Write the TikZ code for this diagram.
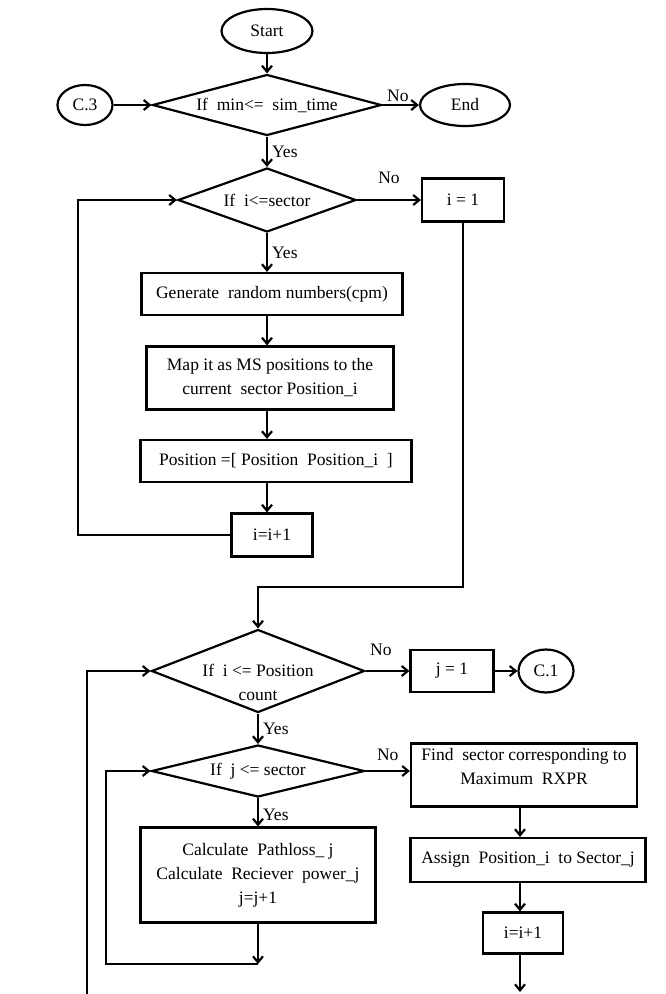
\documentclass[tikz,border=0pt]{standalone}
\usepackage{fontspec}
\setmainfont{Liberation Serif}
\usetikzlibrary{shapes.geometric,arrows.meta}

\begin{document}
\begin{tikzpicture}[x=1pt,y=-1pt,
  font=\fontsize{17.5}{24}\selectfont,
  every node/.style={inner sep=0pt},
  box/.style={draw,line width=2.2pt,align=center},
  term/.style={draw,line width=2.2pt,ellipse},
  decision/.style={draw,line width=2.2pt,diamond},
  lbl/.style={inner sep=0pt},
  arr/.style={line width=2.2pt,-{Straight Barb[length=6pt,width=10pt]}}]
  \useasboundingbox (0,0) rectangle (665,994);
  % upper loop
  \node[term, minimum width=91pt, minimum height=44pt] (start) at (267,31) {Start};
  \node[decision, aspect=3.75, minimum width=229pt, minimum height=61pt] (d1) at (267,105) {If\ \ min<=\ \ sim\_time};
  \node[term, minimum width=55pt, minimum height=40pt] (c3) at (85,105) {C.3};
  \node[term, minimum width=90pt, minimum height=42pt] (end) at (465,105) {End};
  \node[decision, aspect=2.8, minimum width=178pt, minimum height=64pt] (d2) at (267,200) {If\ \ i<=sector};
  \node[box, minimum width=82pt, minimum height=43pt] (i1) at (463,200) {i = 1};
  \node[box, minimum width=261pt, minimum height=42pt] (gen) at (272,294) {Generate\ \ random numbers(cpm)};
  \node[box, minimum width=247pt, minimum height=63pt] (map) at (270,378) {Map it as MS positions\ to the\\current\ \ sector Position\_i};
  \node[box, minimum width=271pt, minimum height=42pt] (pos) at (276,461) {Position =[\ Position\ \ Position\_i\ \ ]};
  \node[box, minimum width=81pt, minimum height=43pt] (inc1) at (272,535) {i=i+1};
  % lower loop
  \node[decision, minimum width=213pt, minimum height=83pt] (d3) at (258,671) {};
  \node[align=center] (d3txt) at ([yshift=-11pt]d3.center) {If\ \ i <= Position\\count};
  \node[box, minimum width=83pt, minimum height=42pt] (j1) at (452,671) {j = 1};
  \node[term, minimum width=55pt, minimum height=43pt] (c1) at (546,671) {C.1};
  \node[decision, aspect=4.1, minimum width=213pt, minimum height=52pt] (d4) at (258,771) {If\ \ j <= sector};
  \node[box, minimum width=226pt, minimum height=63pt] (find) at (524,775) {};
  \node[align=center] (findtxt) at ([yshift=8pt]find.center) {Find\ \ sector corresponding to\\Maximum\ \ RXPR};
  \node[box, minimum width=235pt, minimum height=95pt] (calc) at (258,875) {Calculate\ \ Pathloss\_ j\\Calculate\ \ Reciever\ \ power\_j\\j=j+1};
  \node[box, minimum width=235pt, minimum height=44pt] (assign) at (528,860) {Assign\ \ Position\_i\ \ to Sector\_j};
  \node[box, minimum width=80pt, minimum height=41pt] (inc2) at (523,933) {i=i+1};
  \coordinate (lp1) at (78,0);
  \coordinate (bend) at (258,587);
  \coordinate (lp2) at (106,0);
  \coordinate (jb) at (258,964);
  \coordinate (obot) at (87,994);
  \coordinate (rc) at (520,0);
  \coordinate (rbot) at (520,992);
  % connectors
  \draw[arr] (start) -- (d1);
  \draw[arr] (c3) -- (d1);
  \draw[arr] (d1) -- node[lbl, above=2pt, pos=0.42] (no1) {No} (end);
  \draw[arr] (d1) -- node[lbl, right=4pt] (yes1) {Yes} (d2);
  \draw[arr] (d2) -- node[lbl, above=15pt] (no2) {No} (i1);
  \draw[arr] (d2) -- node[lbl, right=4pt] (yes2) {Yes} (gen.north -| d2);
  \draw[arr] (gen.south -| d2) -- (map.north -| d2);
  \draw[arr] (map.south -| d2) -- (pos.north -| d2);
  \draw[arr] (pos.south -| d2) -- (inc1.north -| d2);
  \draw[arr] (inc1.west) -- (inc1.west -| lp1) |- (d2.west);
  \draw[arr] (i1.south) |- (bend) -- (d3.north);
  \draw[arr] (d3) -- node[lbl, above=14pt, pos=0.35] (no3) {No} (j1);
  \draw[arr] (j1) -- (c1);
  \draw[arr] (d3) -- node[lbl, right=4pt] (yes3) {Yes} (d4);
  \draw[arr] (obot) |- (d3.west);
  \draw[arr] (d4.east) -- node[lbl, above=9pt] (no4) {No} (d4.east -| find.west);
  \draw[arr] (d4) -- node[lbl, right=4pt, pos=0.6] (yes4) {Yes} (calc);
  \draw[arr] (calc) -- (jb);
  \draw[arr] (jb) -- (jb -| lp2) |- (d4.west);
  \draw[arr] (find.south -| rc) -- (assign.north -| rc);
  \draw[arr] (assign.south -| rc) -- (inc2.north -| rc);
  \draw[arr] (inc2.south -| rc) -- (rbot);
\end{tikzpicture}
\end{document}
